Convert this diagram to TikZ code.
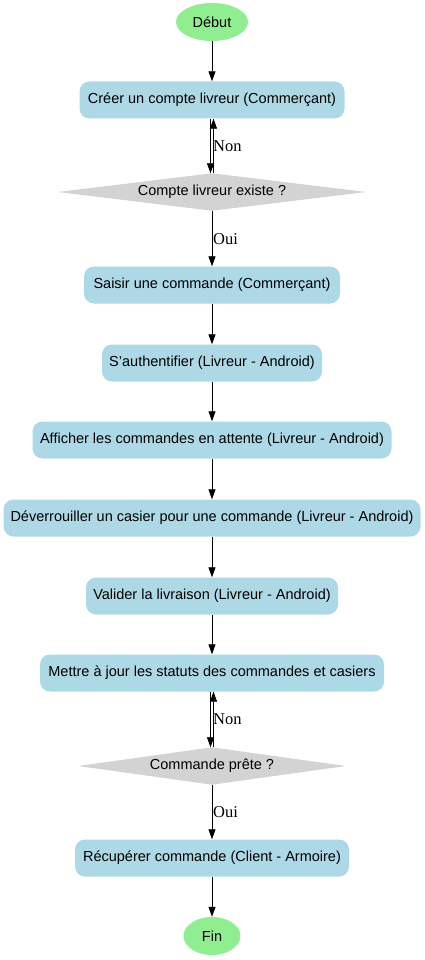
\documentclass[tikz,border=0pt]{standalone}
\usepackage{fontspec}
\setmainfont{Liberation Sans}
\newfontfamily\lblfont{Liberation Serif}
\usetikzlibrary{arrows.meta,backgrounds,shapes.geometric}
\definecolor{boxblue}{HTML}{ADD8E6}
\definecolor{startgreen}{HTML}{90EE90}
\definecolor{diagray}{HTML}{D3D3D3}
\begin{document}
\begin{tikzpicture}[x=1pt,y=-1pt,
  every node/.style={font=\fontsize{14.5}{16}\selectfont, inner sep=0pt},
  stepbox/.style={rectangle, rounded corners=10pt, fill=boxblue, minimum height=37pt},
  term/.style={ellipse, fill=startgreen, minimum height=38pt},
  decision/.style={rectangle, minimum height=37pt},
  arr/.style={-{Triangle[length=10pt,width=7pt]}, line width=0.8pt},
  lbl/.style={font=\lblfont\fontsize{16.5}{18}\selectfont, anchor=west}]
\useasboundingbox (0,0) rectangle (425,960);
\node[term, minimum width=72pt] (debut) at (212,22) {Début};
\node[stepbox, minimum width=265pt] (creer) at (212,100) {Créer un compte livreur (Commerçant)};
\node[decision, minimum width=308pt] (d1) at (212,192) {Compte livreur existe ?};
\node[stepbox, minimum width=256pt] (saisir) at (212,285) {Saisir une commande (Commerçant)};
\node[stepbox, minimum width=220pt] (auth) at (212,363) {S'authentifier (Livreur - Android)};
\node[stepbox, minimum width=359pt] (aff) at (212,440) {Afficher les commandes en attente (Livreur - Android)};
\node[stepbox, minimum width=417pt] (dev) at (212,518) {Déverrouiller un casier pour une commande (Livreur - Android)};
\node[stepbox, minimum width=252pt] (val) at (212,596) {Valider la livraison (Livreur - Android)};
\node[stepbox, minimum width=344pt] (maj) at (212,673) {Mettre à jour les statuts des commandes et casiers};
\node[decision, minimum width=267pt] (d2) at (212,766) {Commande prête ?};
\node[stepbox, minimum width=274pt] (recup) at (212,858) {Récupérer commande (Client - Armoire)};
\node[term, minimum width=57pt] (fin) at (212,936) {Fin};
\begin{scope}[on background layer]
  \fill[diagray] (d1.west) -- (d1.north) -- (d1.east) -- (d1.south) -- cycle;
  \fill[diagray] (d2.west) -- (d2.north) -- (d2.east) -- (d2.south) -- cycle;
\end{scope}
\draw[arr] (debut) -- (creer);
\draw[arr] ([xshift=-1.5pt]creer.south) -- ([xshift=-1.5pt]d1.north);
\draw[arr] ([xshift=1.5pt]d1.north) -- ([xshift=1.5pt]creer.south);
\node[lbl] (non1) at (213,146) {Non};
\draw[arr] (d1) -- (saisir);
\node[lbl] (oui1) at (213,239) {Oui};
\draw[arr] (saisir) -- (auth);
\draw[arr] (auth) -- (aff);
\draw[arr] (aff) -- (dev);
\draw[arr] (dev) -- (val);
\draw[arr] (val) -- (maj);
\draw[arr] ([xshift=-1.5pt]maj.south) -- ([xshift=-1.5pt]d2.north);
\draw[arr] ([xshift=1.5pt]d2.north) -- ([xshift=1.5pt]maj.south);
\node[lbl] (non2) at (213,719) {Non};
\draw[arr] (d2) -- (recup);
\node[lbl] (oui2) at (213,812) {Oui};
\draw[arr] (recup) -- (fin);
\end{tikzpicture}
\end{document}
